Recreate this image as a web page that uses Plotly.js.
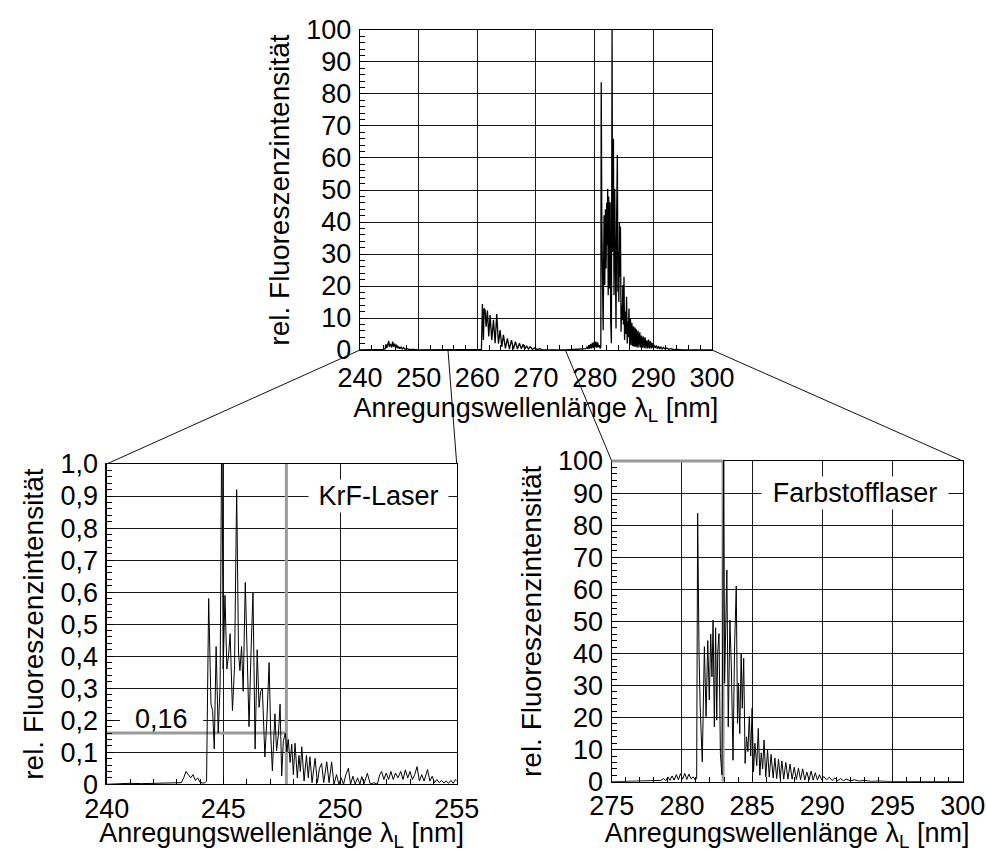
<!DOCTYPE html>
<html><head><meta charset="utf-8">
<script src="https://cdn.plot.ly/plotly-3.0.1.min.js"></script>
<style>html,body{margin:0;padding:0;background:#fff}</style>
</head><body><div id="chart" style="width:986px;height:852px"></div>
<script>
// ---------- data ----------
// Overview spectrum 240–275 nm (KrF region + 260 nm band), rel. units 0–100
const overviewX = [240.0,242.0,243.5,244.0,244.3,244.4,244.55,244.7,244.9,245.0,
 245.2,245.4,245.57,245.75,245.93,246.1,246.27,246.45,246.6,246.8,
 247.0,247.2,247.45,247.7,248.0,248.5,249.0,250.0,252.0,254.0,
 256.0,258.0,260.0,260.7,260.87,261.04,261.15,261.32,261.5,261.72,
 261.95,262.18,262.46,262.75,263.03,263.31,263.6,263.88,264.17,264.45,
 264.79,265.13,265.47,265.82,266.16,266.5,266.84,267.18,267.5,267.8,
 268.1,268.4,268.7,269.0,269.4,269.8,270.2,270.6,271.0,272.0,
 273.0,275.0];
const overviewY = [0.0,0.05,0.1,0.2,0.4,1.8,0.6,1.3,2.8,1.0,
 1.9,0.8,2.6,1.0,2.0,0.6,1.7,0.5,1.1,0.4,
 1.0,0.3,0.7,0.2,0.4,0.1,0.2,0.05,0.1,0.1,
 0.05,0.05,0.1,0.2,14.4,3.1,13.0,12.5,7.3,12.3,
 4.2,10.9,3.1,9.4,2.1,11.2,2.0,6.2,1.0,4.7,
 0.5,3.6,0.3,3.1,0.3,2.6,0.3,2.1,0.4,1.8,
 0.3,1.3,0.3,1.0,0.2,0.7,0.1,0.4,0.1,0.1,
 0.05,0.0];

// KrF-laser region 240–255 nm, rel. units 0–1
const krfX = [240.0,240.5,241.0,241.5,242.0,242.5,243.0,243.2,243.3,243.4,
 243.5,243.6,243.7,243.8,243.9,244.0,244.1,244.2,244.28,244.37,
 244.47,244.54,244.61,244.69,244.78,244.86,244.92,244.95,244.99,245.07,
 245.15,245.22,245.29,245.39,245.48,245.57,245.65,245.71,245.78,245.85,
 245.94,246.02,246.1,246.18,246.27,246.36,246.45,246.53,246.6,246.67,
 246.72,246.78,246.87,246.96,247.03,247.1,247.15,247.21,247.28,247.36,
 247.43,247.5,247.57,247.66,247.72,247.78,247.86,247.93,248.0,248.07,
 248.17,248.24,248.3,248.36,248.46,248.56,248.64,248.71,248.8,248.93,
 249.03,249.12,249.21,249.3,249.43,249.53,249.64,249.74,249.85,249.95,
 250.05,250.15,250.25,250.36,250.45,250.55,250.65,250.75,250.85,250.93,
 251.03,251.17,251.3,251.45,251.6,251.7,251.78,251.88,251.98,252.08,
 252.18,252.28,252.38,252.48,252.6,252.7,252.8,252.9,253.0,253.1,
 253.2,253.3,253.4,253.5,253.6,253.75,253.85,253.95,254.05,254.15,
 254.25,254.35,254.45,254.55,254.65,254.75,254.85,254.95,255.0];
const krfY = [0.0,0.002,0.003,0.002,0.003,0.004,0.003,0.005,0.02,0.04,
 0.03,0.02,0.03,0.012,0.02,0.006,0.004,0.004,0.01,0.58,
 0.25,0.23,0.11,0.43,0.16,0.31,1.0,1.0,0.36,0.59,
 0.36,0.40,0.47,0.23,0.37,0.92,0.41,0.355,0.43,0.29,
 0.63,0.38,0.18,0.40,0.60,0.11,0.42,0.24,0.29,0.30,
 0.19,0.085,0.21,0.38,0.157,0.042,0.125,0.22,0.104,0.157,
 0.25,0.026,0.136,0.16,0.10,0.14,0.068,0.125,0.03,0.128,
 0.02,0.09,0.04,0.117,0.01,0.09,0.02,0.086,0.005,0.081,
 0.005,0.05,0.065,0.005,0.07,0.005,0.07,0.0,0.03,0.0,
 0.02,0.0,0.03,0.05,0.0,0.025,0.0,0.02,0.0,0.024,
 0.002,0.034,0.0,0.005,0.0,0.03,0.04,0.015,0.035,0.015,
 0.04,0.015,0.035,0.02,0.04,0.015,0.045,0.02,0.04,0.015,
 0.03,0.055,0.01,0.03,0.01,0.046,0.01,0.025,0.005,0.015,
 0.005,0.012,0.004,0.01,0.003,0.012,0.003,0.015,0.01];

// Dye-laser region 275–300 nm, rel. units 0–100
const dyeX = [275.0,276.0,277.0,278.0,278.5,278.7,278.85,279.0,279.15,279.3,
 279.45,279.6,279.75,279.9,280.05,280.2,280.35,280.5,280.65,280.8,
 280.95,281.05,281.12,281.22,281.3,281.45,281.6,281.72,281.84,281.95,
 282.05,282.14,282.22,282.31,282.4,282.48,282.55,282.64,282.74,282.85,
 282.97,283.04,283.1,283.2,283.3,283.42,283.52,283.64,283.75,283.87,
 283.96,284.03,284.12,284.22,284.3,284.4,284.5,284.6,284.7,284.8,
 284.9,285.0,285.1,285.2,285.33,285.44,285.55,285.65,285.75,285.85,
 285.97,286.1,286.22,286.35,286.5,286.62,286.75,286.88,287.0,287.12,
 287.25,287.4,287.55,287.7,287.85,288.0,288.15,288.3,288.45,288.6,
 288.75,288.9,289.05,289.2,289.35,289.5,289.65,289.8,289.95,290.1,
 290.3,290.5,290.7,290.9,291.1,291.3,291.5,291.7,292.0,292.3,
 292.6,293.0,293.5,294.0,295.0,297.0,300.0];
const dyeY = [0.0,0.1,0.1,0.2,0.4,1.0,0.3,1.5,0.4,1.8,
 0.5,2.2,0.6,2.5,0.8,2.6,0.7,2.4,0.9,1.5,
 0.5,1.0,83.7,40,23.4,6.2,42.1,20.3,44,25.5,
 46,32.7,50.4,17.1,48,19.2,40.5,46.2,8.8,2.1,
 100,30.7,50,66,17.1,50.4,35.8,6.7,42,61,
 18.2,30.7,15,40,22.9,38.5,5.7,14,9.4,20.3,
 8,22.9,3.1,12,5,16.6,2,9,4,13,
 1.5,9.9,1.5,8.5,1.2,7.4,1.0,7.0,1.0,6.5,
 0.8,6.0,0.8,5.5,0.8,4.5,0.7,4.2,0.6,4.0,
 0.5,3.0,0.5,3.3,0.5,2.8,0.5,2.2,0.6,1.6,
 0.6,1.4,0.4,1.2,0.3,1.0,0.3,0.8,0.3,0.6,
 0.2,0.4,0.1,0.2,0.05,0.05,0.05];

// marker lines (laser wavelength and level)
const krfLaser = [247.7, 0.16];   // [nm, rel. level]
const dyeLaser = [282.93, 100];

// tick labels
const krfTickVals = [0,0.1,0.2,0.3,0.4,0.5,0.6,0.7,0.8,0.9,1.0];
const krfTickText = ['0','0,1','0,2','0,3','0,4','0,5','0,6','0,7','0,8','0,9','1,0'];

const xTitle = 'Anregungswellenlänge λ<sub>L</sub> [nm]';
const yTitle = 'rel. Fluoreszenzintensität';
const labels = ['KrF-Laser', 'Farbstofflaser', '0,16'];

// ---------- layout ----------
const FONT = 'Liberation Sans, Arial, Helvetica, sans-serif';
const FS = 27;     // tick labels, in-plot labels, x titles
const YFS = 28;    // y titles
const GRID = '#1a1a1a';
const D = {
  top:   {x:[0.3651,0.7221], y:[0.5892,0.9648], xr:[240,300], yr:[0,100]},
  left:  {x:[0.1082,0.4632], y:[0.0795,0.4554], xr:[240,255], yr:[0,1]},
  right: {x:[0.6204,0.9764], y:[0.0825,0.4589], xr:[275,300], yr:[0,100]}
};
function px(d, v){ return d.x[0] + (v - d.xr[0])/(d.xr[1]-d.xr[0])*(d.x[1]-d.x[0]); }
function py(d, v){ return d.y[0] + (v - d.yr[0])/(d.yr[1]-d.yr[0])*(d.y[1]-d.y[0]); }

function xAxis(d, anchor, dtick, minor, lblStand, standoff){
  return {domain:d.x, range:d.xr, anchor:anchor, dtick:dtick, tick0:d.xr[0],
    showgrid:true, gridcolor:GRID, gridwidth:1, zeroline:false,
    showline:true, linecolor:'#000', linewidth:1.2, mirror:true,
    ticks:'inside', ticklen:6, tickcolor:'#000',
    minor:{ticks:'inside', ticklen:5, dtick:minor, tick0:d.xr[0], tickcolor:'#000', showgrid:false},
    tickfont:{family:FONT, size:FS, color:'#000'}, ticklabelstandoff:lblStand,
    title:{text:xTitle, font:{family:FONT, size:FS, color:'#000'}, standoff:standoff},
    fixedrange:true};
}
function yAxis(d, anchor, extra, standoff){
  return Object.assign({domain:d.y, range:d.yr, anchor:anchor,
    showgrid:true, gridcolor:GRID, gridwidth:1, zeroline:false,
    showline:true, linecolor:'#000', linewidth:1.2, mirror:true,
    ticks:'inside', ticklen:6, tickcolor:'#000',
    tickfont:{family:FONT, size:FS, color:'#000'}, ticklabelstandoff:2,
    title:{text:yTitle, font:{family:FONT, size:YFS, color:'#000'}, standoff:standoff},
    fixedrange:true}, extra);
}

const lineTop = {color:'#000', width:1.3};
const line = {color:'#000', width:1};
const traces = [
  {x:overviewX, y:overviewY, xaxis:'x', yaxis:'y', mode:'lines', line:lineTop, showlegend:false, hoverinfo:'skip'},
  {x:dyeX, y:dyeY, xaxis:'x', yaxis:'y', mode:'lines', line:lineTop, showlegend:false, hoverinfo:'skip'},
  {x:krfX, y:krfY, xaxis:'x2', yaxis:'y2', mode:'lines', line:line, showlegend:false, hoverinfo:'skip'},
  {x:dyeX, y:dyeY, xaxis:'x3', yaxis:'y3', mode:'lines', line:line, showlegend:false, hoverinfo:'skip'}
];

const GRAY = '#9a9a9a';
const conn = {color:'#111', width:1};
const shapes = [
  // zoom connectors
  {type:'line', xref:'paper', yref:'paper', x0:px(D.top, D.left.xr[0]), y0:D.top.y[0], x1:D.left.x[0], y1:D.left.y[1], line:conn},
  {type:'line', xref:'paper', yref:'paper', x0:px(D.top, D.left.xr[1]), y0:D.top.y[0], x1:D.left.x[1], y1:D.left.y[1], line:conn},
  {type:'line', xref:'paper', yref:'paper', x0:px(D.top, D.right.xr[0]), y0:D.top.y[0], x1:D.right.x[0], y1:D.right.y[1], line:conn},
  {type:'line', xref:'paper', yref:'paper', x0:px(D.top, D.right.xr[1]), y0:D.top.y[0], x1:D.right.x[1], y1:D.right.y[1], line:conn},
  // white box behind the "0,16" label (covers the gridline)
  {type:'rect', xref:'x2', yref:'y2', x0:240.57, x1:244.13, y0:0.172, y1:0.24, line:{width:0}, fillcolor:'#fff', layer:'between'},
  // KrF laser marker lines
  {type:'line', xref:'x2', yref:'y2', x0:krfLaser[0], x1:krfLaser[0], y0:D.left.yr[0], y1:D.left.yr[1], line:{color:GRAY, width:3}, layer:'between'},
  {type:'line', xref:'x2', yref:'y2', x0:D.left.xr[0], x1:krfLaser[0], y0:krfLaser[1], y1:krfLaser[1], line:{color:GRAY, width:3}, layer:'between'},
  // dye laser marker lines
  {type:'line', xref:'x3', yref:'y3', x0:dyeLaser[0], x1:dyeLaser[0], y0:D.right.yr[0], y1:dyeLaser[1], line:{color:GRAY, width:3}, layer:'between'},
  {type:'line', xref:'paper', yref:'paper', x0:D.right.x[0], x1:px(D.right, dyeLaser[0]), y0:py(D.right, dyeLaser[1]), y1:py(D.right, dyeLaser[1]), line:{color:GRAY, width:3}, layer:'above'}
];

const annFont = {family:FONT, size:FS, color:'#000'};
const annotations = [
  {xref:'x2', yref:'y2', x:251.65, y:0.9, text:labels[0], showarrow:false, font:annFont, bgcolor:'#fff', width:137, borderpad:1},
  {xref:'x3', yref:'y3', x:292.33, y:90, text:labels[1], showarrow:false, font:annFont, bgcolor:'#fff', width:184, borderpad:1},
  {xref:'x2', yref:'y2', x:242.35, y:0.204, text:labels[2], showarrow:false, font:annFont}
];

const layout = {
  width:986, height:852, margin:{l:0, r:0, t:0, b:0},
  paper_bgcolor:'#fff', plot_bgcolor:'#fff', showlegend:false,
  separators:',.', font:{family:FONT, size:FS, color:'#000'},
  xaxis: xAxis(D.top, 'y', 10, 2, 3, 5),
  yaxis: yAxis(D.top, 'x', {dtick:10, minor:{ticks:'inside', ticklen:5, dtick:2, tickcolor:'#000', showgrid:false}}, 8),
  xaxis2: xAxis(D.left, 'y2', 5, 1, 0, 6),
  yaxis2: yAxis(D.left, 'x2', {tickmode:'array', tickvals:krfTickVals, ticktext:krfTickText,
           minor:{ticks:'inside', ticklen:5, dtick:0.02, tick0:0, tickcolor:'#000', showgrid:false}}, 8),
  xaxis3: xAxis(D.right, 'y3', 5, 1, 0, 6),
  yaxis3: yAxis(D.right, 'x3', {dtick:10, minor:{ticks:'inside', ticklen:5, dtick:2, tickcolor:'#000', showgrid:false}}, 8),
  shapes: shapes, annotations: annotations
};

Plotly.newPlot('chart', traces, layout, {staticPlot:true, displayModeBar:false});
</script></body></html>
